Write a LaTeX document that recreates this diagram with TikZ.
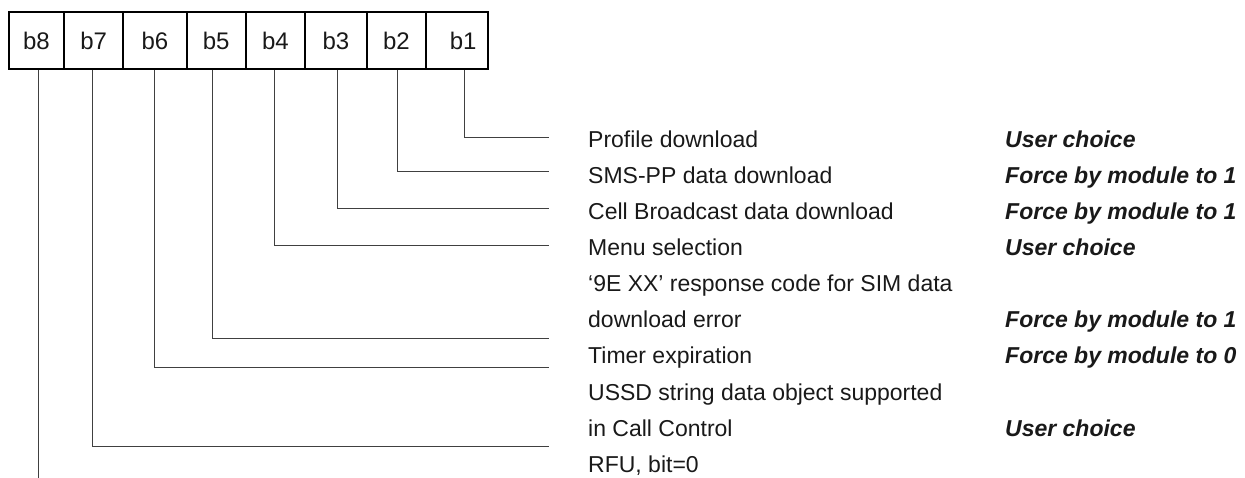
\documentclass[tikz,border=0pt]{standalone}
\usepackage{fontspec}
\setmainfont{Liberation Sans}
\begin{document}
\begin{tikzpicture}[x=1bp,y=-1bp,
  cell/.style={draw=black,line width=2bp,minimum height=57bp,inner sep=0pt,
    font=\fontsize{24bp}{28bp}\selectfont,text=black!90},
  desc/.style={anchor=base west,inner sep=0pt,font=\fontsize{23bp}{27bp}\selectfont,text=black!90},
  choice/.style={anchor=base west,inner sep=0pt,font=\fontsize{23bp}{27bp}\selectfont\bfseries\itshape,text=black!90},
  conn/.style={draw=black!75,line width=1bp}]
\useasboundingbox (0,0) rectangle (1245,478);
% bit cells
\node[cell,minimum width=55bp]   (c8) at (36.5,40.5) {b8};
\node[cell,minimum width=59.3bp] (c7) at (93.65,40.5) {b7};
\node[cell,minimum width=63.4bp] (c6) at (155,40.5) {b6};
\node[cell,minimum width=59bp]   (c5) at (216.2,40.5) {b5};
\node[cell,minimum width=59.6bp] (c4) at (275.5,40.5) {b4};
\node[cell,minimum width=61.4bp] (c3) at (336,40.5) {b3};
\node[cell,minimum width=59.3bp] (c2) at (396.35,40.5) {b2};
\node[cell,minimum width=62.3bp] (c1) at (457.15,40.5) {\hspace*{12bp}b1};
% line ends
\coordinate (e1) at (549,138);
\coordinate (e2) at (549,172);
\coordinate (e3) at (549,209);
\coordinate (e4) at (549,246);
\coordinate (e5) at (549,339);
\coordinate (e6) at (549,368);
\coordinate (e7) at (549,446);
\coordinate (e8) at (38,478);
% connectors
\draw[conn] ([xshift=6.85bp]c1.south) |- (e1);
\draw[conn] ([xshift=1.3bp]c2.south) |- (e2);
\draw[conn] ([xshift=1.3bp]c3.south) |- (e3);
\draw[conn] ([xshift=-1.5bp]c4.south) |- (e4);
\draw[conn] ([xshift=-3.5bp]c5.south) |- (e5);
\draw[conn] ([xshift=-1bp]c6.south) |- (e6);
\draw[conn] ([xshift=-1bp]c7.south) |- (e7);
\draw[conn] ([xshift=1.5bp]c8.south) -- (e8);
% descriptions
\node[desc] (t1) at (588,148) {Profile download};
\node[desc] (t2) at (588,184) {SMS-PP data download};
\node[desc] (t3) at (588,220) {Cell Broadcast data download};
\node[desc] (t4) at (588,256) {Menu selection};
\node[desc] (t5a) at (588,292) {‘9E XX’ response code for SIM data};
\node[desc] (t5b) at (588,328) {download error};
\node[desc] (t6) at (588,364) {Timer expiration};
\node[desc] (t7a) at (588,400) {USSD string data object supported};
\node[desc] (t7b) at (588,436) {in Call Control};
\node[desc] (t8) at (588,472) {RFU, bit=0};
% choices
\node[choice] (r1) at (1005,148) {User choice};
\node[choice] (r2) at (1005,184) {Force by module to 1};
\node[choice] (r3) at (1005,220) {Force by module to 1};
\node[choice] (r4) at (1005,256) {User choice};
\node[choice] (r5) at (1005,328) {Force by module to 1};
\node[choice] (r6) at (1005,364) {Force by module to 0};
\node[choice] (r7) at (1005,436) {User choice};
\end{tikzpicture}
\end{document}
